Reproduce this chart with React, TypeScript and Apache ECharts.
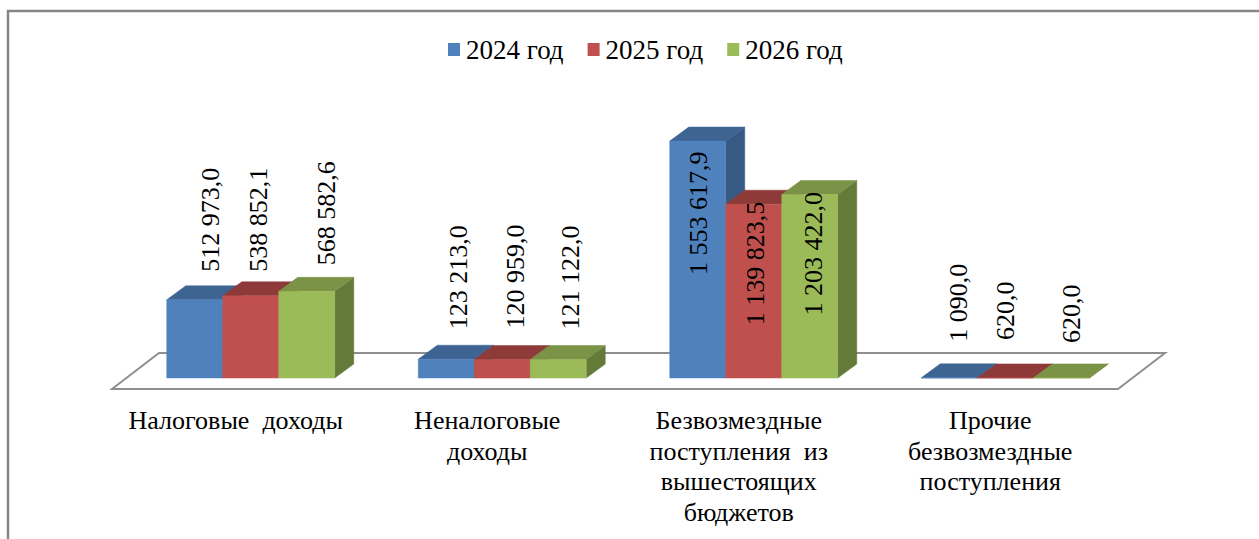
import React, { useEffect, useRef } from "react";
import * as echarts from "echarts";

const categories = [
  "Налоговые  доходы",
  "Неналоговые\nдоходы",
  "Безвозмездные\nпоступления  из\nвышестоящих\nбюджетов",
  "Прочие\nбезвозмездные\nпоступления",
];
const seriesNames = ["2024 год", "2025 год", "2026 год"];
const values2024 = [512973.0, 123213.0, 1553617.9, 1090.0];
const values2025 = [538852.1, 120959.0, 1139823.5, 620.0];
const values2026 = [568582.6, 121122.0, 1203422.0, 620.0];
const allValues = [values2024, values2025, values2026];

// Hand-placed data-label offsets, as in the source chart: relative to the bar centre and bar top.
const labelDx = [
  [16, 12, 1, 9],
  [8, 13, 2, 0],
  [20, 12, 4, 10],
];
const labelDy = [
  [-28, -30, 134, -36],
  [-24, -31, 121, -38],
  [-26, -30, 121, -35],
];

const frontColors = ["#4F81BD", "#C0504D", "#9BBB59"];
const topColors = ["#3E6494", "#8E3A38", "#7A9346"];
const sideColors = ["#375A85", "#7F3331", "#647A38"];

const FONT = '"Liberation Serif", "Times New Roman", serif';
const BAR_W = 56;
const DEPTH_X = 19;
const DEPTH_Y = 14;

const formatValue = (v: number) => {
  const [intPart, frac] = v.toFixed(1).split(".");
  return intPart.replace(/\B(?=(\d{3})+$)/g, " ") + "," + frac;
};

const makeBarRenderer = (s: number) => (_params: any, api: any) => {
  const c = api.value(0);
  const v = api.value(1);
  const [cx, y0] = api.coord([c, 0]);
  const [, y1] = api.coord([c, v]);
  const xl = cx - BAR_W * 1.5 + s * BAR_W;
  const xr = xl + BAR_W;
  const poly = (points: number[][], fill: string) => ({
    type: "polygon",
    shape: { points },
    style: { fill, stroke: fill, lineWidth: 0.5 },
  });
  return {
    type: "group",
    children: [
      poly(
        [
          [xr, y0],
          [xr + DEPTH_X, y0 - DEPTH_Y],
          [xr + DEPTH_X, y1 - DEPTH_Y],
          [xr, y1],
        ],
        sideColors[s]
      ),
      poly(
        [
          [xl, y1],
          [xl + DEPTH_X, y1 - DEPTH_Y],
          [xr + DEPTH_X, y1 - DEPTH_Y],
          [xr, y1],
        ],
        topColors[s]
      ),
      poly(
        [
          [xl, y0],
          [xl, y1],
          [xr, y1],
          [xr, y0],
        ],
        frontColors[s]
      ),
      {
        type: "text",
        x: xl + BAR_W / 2 + labelDx[s][c],
        y: y1 + labelDy[s][c],
        rotation: Math.PI / 2,
        z2: 50,
        style: {
          text: formatValue(v),
          textAlign: "left",
          textVerticalAlign: "middle",
          fill: "#000",
          font: `26px ${FONT}`,
        },
      },
    ],
  };
};

const renderFloor = (params: any) => {
  const { x, y, width, height } = params.coordSys;
  const base = y + height;
  return {
    type: "polygon",
    shape: {
      points: [
        [x - 13, base + 11],
        [x + 34, base - 25],
        [x + width + 34, base - 25],
        [x + width - 13, base + 11],
      ],
    },
    style: { fill: "#fff", stroke: "#8F8F8F", lineWidth: 2 },
  };
};

export default function App() {
  const ref = useRef<HTMLDivElement>(null);
  useEffect(() => {
    document.body.style.margin = "0";
    const chart = echarts.init(ref.current!, undefined, { renderer: "svg" });
    chart.setOption({
      animation: false,
      backgroundColor: "#fff",
      legend: {
        data: seriesNames,
        left: 443,
        top: 31,
        icon: "rect",
        itemWidth: 12,
        itemHeight: 13,
        itemGap: 24,
        textStyle: { fontFamily: FONT, fontSize: 27, color: "#000", padding: [0, 0, 0, 1] },
      },
      grid: { left: 125, width: 1006, top: 73, height: 305 },
      xAxis: {
        type: "category",
        data: categories,
        axisLine: { show: false },
        axisTick: { show: false },
        axisLabel: {
          interval: 0,
          margin: 27,
          fontFamily: FONT,
          fontSize: 26,
          lineHeight: 30.7,
          color: "#000",
          align: "center",
          verticalAlign: "top",
          padding: [0, 30, 0, 0],
        },
      },
      yAxis: { type: "value", min: 0, max: 2000000, show: false },
      graphic: [
        {
          type: "polyline",
          shape: {
            points: [
              [8, 539],
              [8, 11],
              [1259, 11],
            ],
          },
          style: { fill: "none", stroke: "#868686", lineWidth: 2.5 },
          silent: true,
        },
      ],
      series: [
        {
          type: "custom",
          name: "floor",
          silent: true,
          z: 1,
          data: [[0, 0]],
          renderItem: renderFloor,
        },
        ...seriesNames.map((name, s) => ({
          type: "custom",
          name,
          z: 2 + s,
          itemStyle: { color: frontColors[s] },
          encode: { x: 0, y: 1 },
          data: allValues[s].map((v, i) => [i, v]),
          renderItem: makeBarRenderer(s),
        })),
      ],
    });
    return () => chart.dispose();
  }, []);
  return (
    <div
      ref={ref}
      style={{ position: "absolute", left: 0, top: 0, width: 1259, height: 539 }}
    />
  );
}
